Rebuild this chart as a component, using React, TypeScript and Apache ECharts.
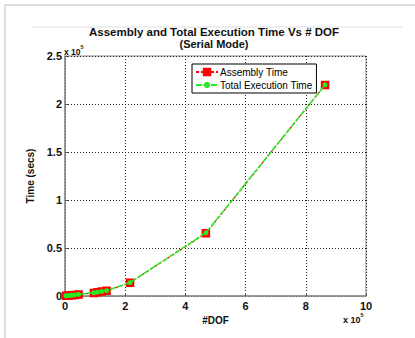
import React, { useEffect, useRef } from "react";
import * as echarts from "echarts";

const dof = [3000, 12000, 22000, 33000, 45000, 96000, 108000, 122000, 138000, 216000, 468000, 864000];
const assemblyTime = [200, 400, 700, 1100, 1600, 3200, 3800, 4600, 5400, 13800, 65400, 219800];
const totalTime = [300, 500, 800, 1200, 1700, 3400, 4000, 4800, 5600, 14000, 65800, 220000];
const xTicks = [0, 2, 4, 6, 8, 10];
const yTicks = [0, 0.5, 1, 1.5, 2, 2.5];
const titleText = "Assembly and Total Execution Time Vs # DOF";
const subTitleText = "(Serial Mode)";

const FONT = "'Liberation Sans', Arial, sans-serif";

export default function App() {
  const ref = useRef<HTMLDivElement>(null);
  useEffect(() => {
    if (!ref.current) return;
    const chart = echarts.init(ref.current, undefined, { renderer: "svg" });
    const asm = dof.map((d, i) => [d, assemblyTime[i]]);
    const tot = dof.map((d, i) => [d, totalTime[i]]);
    const fmt = (v: number) => {
      const s = v / 1e5;
      return String(Math.round(s * 10) / 10);
    };
    chart.setOption({
      animation: false,
      backgroundColor: "#fff",
      textStyle: { fontFamily: FONT },
      grid: { left: 65, top: 56, width: 301, height: 240, show: true, borderColor: "#8a8a8a", borderWidth: 1 },
      legend: {
        orient: "vertical",
        left: 192,
        top: 64,
        backgroundColor: "#fff",
        borderColor: "#000",
        borderWidth: 1,
        borderRadius: 0,
        padding: [3, 4, 3, 3],
        itemGap: 3,
        itemWidth: 22,
        itemHeight: 8,
        textStyle: { fontFamily: FONT, fontSize: 10, color: "#000", padding: [0, 0, 0, -3] },
        data: ["Assembly Time", "Total Execution Time"],
      },
      xAxis: {
        type: "value",
        min: xTicks[0] * 1e5,
        max: xTicks[xTicks.length - 1] * 1e5,
        interval: 2e5,
        name: "#DOF",
        nameLocation: "middle",
        nameGap: 13,
        nameTextStyle: { fontFamily: FONT, fontSize: 10, fontWeight: "bold", color: "#111" },
        axisLine: { show: true, lineStyle: { color: "#8a8a8a", width: 1.5 } },
        axisTick: { show: true, inside: true, length: 3, lineStyle: { color: "#555" } },
        axisLabel: { formatter: fmt, fontFamily: FONT, fontSize: 11, fontWeight: "bold", color: "#111", margin: 4 },
        splitLine: { show: true, lineStyle: { color: "#222", type: [1, 2], width: 1 } },
      },
      yAxis: {
        type: "value",
        min: yTicks[0] * 1e5,
        max: yTicks[yTicks.length - 1] * 1e5,
        interval: 0.5e5,
        name: "Time (secs)",
        nameLocation: "middle",
        nameGap: 17,
        nameTextStyle: { fontFamily: FONT, fontSize: 10, fontWeight: "bold", color: "#111" },
        axisLine: { show: true, lineStyle: { color: "#8a8a8a", width: 1.5 } },
        axisTick: { show: true, inside: true, length: 3, lineStyle: { color: "#555" } },
        axisLabel: { formatter: fmt, fontFamily: FONT, fontSize: 11, fontWeight: "bold", color: "#111", margin: 3 },
        splitLine: { show: true, lineStyle: { color: "#222", type: [1, 2], width: 1 } },
      },
      series: [
        {
          name: "Assembly Time",
          type: "line",
          data: asm,
          symbol: "rect",
          symbolSize: 7,
          showAllSymbol: true,
          itemStyle: { color: "#ff0000", borderColor: "#ff0000", borderWidth: 1.5 },
          lineStyle: { color: "#ff0000", width: 1.2, type: [3, 2] },
          z: 2,
        },
        {
          name: "Total Execution Time",
          type: "line",
          data: tot,
          symbol: "circle",
          symbolSize: 5,
          showAllSymbol: true,
          itemStyle: { color: "#22ee22", borderColor: "#22ee22", borderWidth: 0 },
          lineStyle: { color: "#22ee22", width: 1.5, type: [6, 1.5] },
          z: 3,
        },
      ],
      graphic: [
        { type: "rect", shape: { x: 5, y: 5, width: 420, height: 340 }, style: { fill: "none", stroke: "#dcdcdc", lineWidth: 2 }, silent: true },
        { type: "line", shape: { x1: 33, y1: 27, x2: 402, y2: 27 }, style: { stroke: "#dedede", lineWidth: 1 }, silent: true },
        {
          type: "text",
          x: 214,
          y: 26,
          style: { text: titleText, fontFamily: FONT, fontSize: 11.5, fontWeight: "bold", fill: "#111", align: "center", verticalAlign: "top" },
        },
        {
          type: "text",
          x: 214,
          y: 38,
          style: { text: subTitleText, fontFamily: FONT, fontSize: 11, fontWeight: "bold", fill: "#111", align: "center", verticalAlign: "top" },
        },
        {
          type: "text",
          x: 64,
          y: 44,
          style: {
            text: "{a|x 10}{b|5}",
            rich: {
              a: { fontFamily: FONT, fontSize: 8.5, fontWeight: "bold", fill: "#111", padding: [3, 0, 0, 0] },
              b: { fontFamily: FONT, fontSize: 5.5, fontWeight: "bold", fill: "#111", verticalAlign: "top" },
            },
            verticalAlign: "top",
          },
        },
        {
          type: "text",
          x: 343,
          y: 312,
          style: {
            text: "{a|x 10}{b|5}",
            rich: {
              a: { fontFamily: FONT, fontSize: 9, fontWeight: "bold", fill: "#111", padding: [3, 0, 0, 0] },
              b: { fontFamily: FONT, fontSize: 5.5, fontWeight: "bold", fill: "#111", verticalAlign: "top" },
            },
            verticalAlign: "top",
          },
        },
      ],
    });
    return () => chart.dispose();
  }, []);
  return <div ref={ref} style={{ position: "absolute", left: 0, top: 0, width: 415, height: 338 }} />;
}
